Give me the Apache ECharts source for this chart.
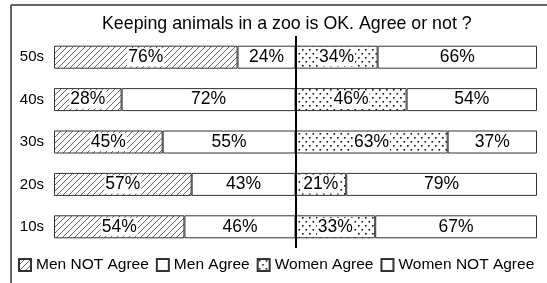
<!DOCTYPE html>
<html><head><meta charset="utf-8">
<script src="https://cdn.jsdelivr.net/npm/echarts@6/dist/echarts.min.js"></script>
<style>html,body{margin:0;padding:0;background:#fff}#c{width:547px;height:283px}</style>
</head><body><div id="c"></div>
<script>
const categories = ['50s','40s','30s','20s','10s'];
const menNotAgree = [76,28,45,57,54];
const menAgree = [24,72,55,43,46];
const womenAgree = [34,46,63,21,33];
const womenNotAgree = [66,54,37,79,67];
const seriesNames = ['Men NOT Agree','Men Agree','Women Agree','Women NOT Agree'];
const titleText = 'Keeping animals in a zoo is OK. Agree or not ?';

function hatch(){
  const c=document.createElement('canvas');c.width=6;c.height=6;
  const g=c.getContext('2d');g.fillStyle='#fff';g.fillRect(0,0,6,6);
  g.strokeStyle='#555';g.lineWidth=0.9;g.beginPath();
  g.moveTo(-1,7);g.lineTo(7,-1);g.stroke();
  return c;
}
function dots(){
  const c=document.createElement('canvas');c.width=7;c.height=8;
  const g=c.getContext('2d');g.fillStyle='#fff';g.fillRect(0,0,7,8);
  g.fillStyle='#111';g.fillRect(1,1,1.6,1.6);g.fillRect(4.5,5,1.6,1.6);
  return c;
}
const hatchFill={image:hatch(),repeat:'repeat'};
const dotFill={image:dots(),repeat:'repeat'};
const FONT='Liberation Sans';

const labelCfg={show:true,position:'inside',formatter:'{c}%',color:'#000',fontSize:17.5,fontFamily:FONT,backgroundColor:'#fff',padding:[0,1]};
function mk(name,data,fill,extra){
  return Object.assign({name:name,type:'bar',stack:'all',data:data,barWidth:23,
    itemStyle:{color:fill,borderColor:'#333',borderWidth:1},
    label:labelCfg,emphasis:{disabled:true},silent:true},extra||{});
}
const chart=echarts.init(document.getElementById('c'));
chart.setOption({
  animation:false,
  title:{text:titleText,left:97,top:10,textStyle:{fontSize:17.8,fontWeight:'normal',color:'#000',fontFamily:FONT}},
  graphic:[
    {type:'line',shape:{x1:11,y1:5,x2:547,y2:5},style:{stroke:'#333',lineWidth:1.5}},
    {type:'line',shape:{x1:11,y1:5,x2:11,y2:283},style:{stroke:'#333',lineWidth:1.5}}
  ],
  legend:{data:seriesNames,left:18,right:0,top:257,icon:'rect',itemWidth:12,itemHeight:12,itemGap:7,
    textStyle:{fontSize:15.5,color:'#000',fontFamily:FONT},selectedMode:false,padding:0},
  grid:{left:54,right:10,top:36,height:212},
  xAxis:{type:'value',min:0,max:200,show:false},
  yAxis:{type:'category',data:categories,inverse:true,axisLine:{show:false},axisTick:{show:false},
    axisLabel:{fontSize:15,color:'#000',margin:10,fontFamily:FONT}},
  series:[
    mk(seriesNames[0],menNotAgree,hatchFill),
    mk(seriesNames[1],menAgree,'#fff',{markLine:{silent:true,symbol:'none',label:{show:false},
      lineStyle:{color:'#000',width:2,type:'solid'},data:[{xAxis:100}]}}),
    mk(seriesNames[2],womenAgree,dotFill),
    mk(seriesNames[3],womenNotAgree,'#fff')
  ]
});
</script></body></html>
